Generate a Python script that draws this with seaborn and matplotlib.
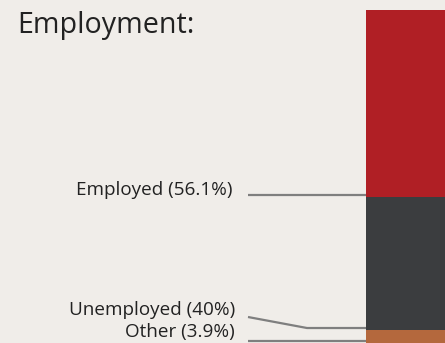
import matplotlib
matplotlib.use("Agg")
import matplotlib.pyplot as plt
from matplotlib.lines import Line2D
import seaborn as sns
import pandas as pd

categories = ["Employed", "Unemployed", "Other"]
values = [56.1, 40.0, 3.9]
labels = ["Employed (56.1%)", "Unemployed (40%)", "Other (3.9%)"]
colors = ["#b01f25", "#3b3d3f", "#b4683d"]
title = "Employment:"

sns.set_theme(style="white")
plt.rcParams['font.family'] = ['Open Sans', 'DejaVu Sans']

W, H = 445, 343
fig = plt.figure(figsize=(W / 100, H / 100), dpi=100)
bg = "#f0ede9"
fig.patch.set_facecolor(bg)

ax = fig.add_axes([366 / W, 0, 1 - 366 / W, (H - 10) / H])
ax.set_facecolor(bg)

# stacked bar: Other at bottom, Employed on top
bottoms = {}
acc = 0.0
for cat, v in zip(categories[::-1], values[::-1]):
    bottoms[cat] = acc
    acc += v
# overlay cumulative bars, largest first
for cat, v, col in zip(categories, values, colors):
    df = pd.DataFrame({"group": ["Employment"], "value": [bottoms[cat] + v]})
    sns.barplot(data=df, x="group", y="value", color=col, width=1.0,
                saturation=1, ax=ax, edgecolor="none", linewidth=0)

ax.set_xlim(-0.5, 0.5)
ax.set_ylim(0, acc)
ax.axis("off")

fig.text(17 / W, 1 - 26 / H, title, fontsize=20.6, color="#222222",
         ha="left", va="center")

# label positions (image pixels)
text_right = [232, 235, 235]
text_cy = [190, 310, 332]
line_start_y = [196, 317, 341]
bend_x = [None, 307, None]
line_x0 = 248

to_fig = fig.transFigure.inverted()
for i, cat in enumerate(categories):
    fig.text(text_right[i] / W, 1 - text_cy[i] / H, labels[i], fontsize=13.6,
             color="#222222", ha="right", va="center")
    disp = ax.transData.transform((-0.5, bottoms[cat] + 0.6))
    tx, ty = to_fig.transform(disp)
    sx, sy = line_x0 / W, 1 - line_start_y[i] / H
    if bend_x[i] is None:
        xs, ys = [sx, tx], [ty, ty]
    else:
        xs, ys = [sx, bend_x[i] / W, tx], [sy, ty, ty]
    fig.add_artist(Line2D(xs, ys, transform=fig.transFigure, color="#7f7f7f",
                          linewidth=1.6, solid_capstyle="butt"))

fig.savefig("out.png", dpi=100, facecolor=bg)
